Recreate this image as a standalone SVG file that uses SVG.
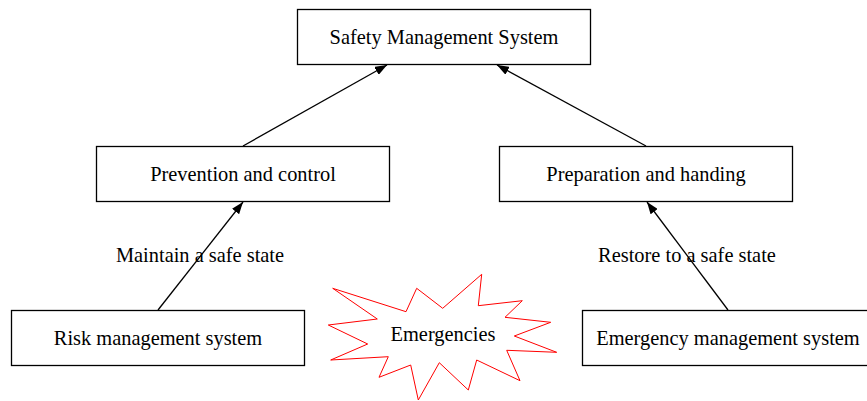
<svg xmlns="http://www.w3.org/2000/svg" width="867" height="401" viewBox="0 0 867 401">
  <style>
    .box { fill: #fff; stroke: #000; stroke-width: 1.3; }
    .lbl { font-family: "Liberation Serif", "Times New Roman", serif; font-size: 20.4px; fill: #000; text-anchor: middle; }
    .edge { stroke: #000; stroke-width: 1.3; fill: none; marker-end: url(#arrow); }
    .star { fill: #fff; stroke: #ff0000; stroke-width: 1; }
  </style>
  <defs>
    <marker id="arrow" markerUnits="userSpaceOnUse" markerWidth="12" markerHeight="9" refX="12" refY="4.5" orient="auto">
      <path d="M0,0 L12,4.5 L0,9 z" fill="#000"/>
    </marker>
  </defs>
  <rect width="867" height="401" fill="#fff"/>

  <g id="connectors">
    <line class="edge" x1="243" y1="146" x2="387" y2="65"/>
    <line class="edge" x1="646" y1="146" x2="497" y2="65"/>
    <line class="edge" x1="158" y1="310" x2="243" y2="202"/>
    <line class="edge" x1="728" y1="310" x2="647" y2="202"/>
  </g>

  <g id="edge-labels">
    <text class="lbl" x="200" y="262">Maintain a safe state</text>
    <text class="lbl" x="687" y="262">Restore to a safe state</text>
  </g>

  <g id="safety-management-system">
    <rect class="box" x="297.5" y="9.5" width="293" height="55"/>
    <text class="lbl" x="444" y="44">Safety Management System</text>
  </g>

  <g id="prevention-and-control">
    <rect class="box" x="96.5" y="146.5" width="293" height="55"/>
    <text class="lbl" x="243" y="181">Prevention and control</text>
  </g>

  <g id="preparation-and-handing">
    <rect class="box" x="499.5" y="146.5" width="293" height="55"/>
    <text class="lbl" x="646" y="181">Preparation and handing</text>
  </g>

  <g id="risk-management-system">
    <rect class="box" x="11.5" y="310.5" width="293" height="55"/>
    <text class="lbl" x="158" y="345">Risk management system</text>
  </g>

  <g id="emergency-management-system">
    <rect class="box" x="582.5" y="310.5" width="293" height="55"/>
    <text class="lbl" x="728" y="345">Emergency management system</text>
  </g>

  <g id="emergencies">
    <polygon class="star" points="332.7,288.3 406,311.7 416.7,288.3 442.7,308.3 481.7,274.3 478.3,305.7 522.3,300.7 505,317.3 550.7,322.3 514.3,336 556.7,352.3 506.7,350.3 520,380.7 476.7,360 468.3,390 439.3,362.7 418.3,400 410.7,365 379,377.3 388.3,356.7 330.7,360 367.7,344 328.3,325 377.3,319"/>
    <text class="lbl" x="443" y="341">Emergencies</text>
  </g>
</svg>
